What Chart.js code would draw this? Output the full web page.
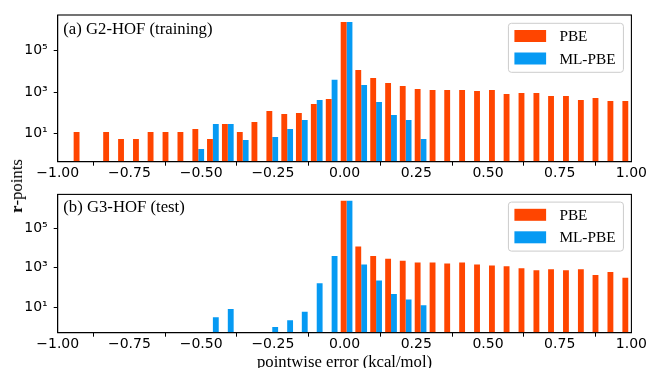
<!DOCTYPE html>
<html>
<head>
<meta charset="utf-8">
<script src="https://cdn.jsdelivr.net/npm/chart.js@4.4.1/dist/chart.umd.min.js"></script>
<style>
  body { margin: 0; background: #fff; width: 648px; height: 368px; position: relative; overflow: hidden; }
  canvas { position: absolute; left: 0; }
  #ylab {
    position: absolute; left: 17px; top: 186px;
    transform: translate(-50%, -50%) rotate(-90deg);
    font: 16.7px "Liberation Serif", serif; color: #000; white-space: nowrap;
  }
</style>
</head>
<body>
<canvas id="g2" width="648" height="180" style="top:0"></canvas>
<canvas id="g3" width="648" height="188" style="top:180px"></canvas>
<div id="ylab"><b>r</b>-points</div>
<script>
// histogram bin centres (kcal/mol)
const binCenters = [
  -0.924, -0.872, -0.821, -0.769, -0.717, -0.666, -0.614, -0.562, -0.510, -0.459,
  -0.407, -0.355, -0.304, -0.252, -0.200, -0.149, -0.097, -0.045, 0.007, 0.058,
  0.110, 0.162, 0.213, 0.265, 0.317, 0.368, 0.420, 0.472, 0.524, 0.575,
  0.627, 0.679, 0.730, 0.782, 0.834, 0.885, 0.937, 0.989,
];

// (a) G2-HOF (training)
const g2Pbe = [
  12, null, 12, 5.5, 5.5, 12, 12, 12, 17, 5.5,
  29, 12, 36, 123, 89, 99, 268, 466, 2.4e6, 11700,
  4800, 2760, 1990, 1420, 1260, 1260, 1260, 1140, 1260, 815,
  910, 910, 655, 655, 420, 525, 375, 375,
];
const g2MlPbe = [
  null, null, null, null, null, null, null, null, 1.8, 29,
  29, 5, null, 7, 17, 46, 414, 3900, 2.4e6, 2230,
  337, 79, 46, 5.5, null, null, null, null, null, null,
  null, null, null, null, null, null, null, null,
];

// (b) G3-HOF (test)
const g3Pbe = [
  null, null, null, null, null, null, null, null, null, null,
  null, null, null, null, null, null, null, null, 2.5e6, 12000,
  4000, 2870, 2300, 1850, 1850, 1660, 1850, 1480, 1320, 1180,
  950, 760, 850, 760, 850, 435, 605, 310,
];
const g3MlPbe = [
  null, null, null, null, null, null, null, null, null, 3.1,
  8.3, null, null, 1.0, 2.2, 6, 166, 4000, 2.5e6, 1480,
  224, 47, 25, 12.5, null, null, null, null, null, null,
  null, null, null, null, null, null, null, null,
];

const xTicks = [-1, -0.75, -0.5, -0.25, 0, 0.25, 0.5, 0.75, 1];
const yTicks = [10, 1000, 100000];
const supDigits = { 1: '¹', 3: '³', 5: '⁵' };

const PBE_COLOR = '#ff4500';
const ML_COLOR = '#069af3';

// frame, panel label and legend box drawn on top of the bars
const panelDecor = {
  id: 'panelDecor',
  afterDraw: (ch, _, opts) => {
    const { ctx, chartArea: a } = ch;
    ctx.save();
    ctx.strokeStyle = '#000';
    ctx.lineWidth = 1.1;
    ctx.strokeRect(a.left, a.top, a.right - a.left, a.bottom - a.top);

    ctx.fillStyle = '#000';
    ctx.font = '16.7px "Liberation Serif", serif';
    ctx.textBaseline = 'alphabetic';
    ctx.textAlign = 'left';
    ctx.fillText(opts.label, a.left + 5.6, a.top + opts.labelDy);

    // legend
    const bx = a.right - 123, by = a.top + opts.legendDy, bw = 115, bh = 49;
    ctx.beginPath();
    ctx.roundRect(bx, by, bw, bh, 3);
    ctx.fillStyle = 'rgba(255,255,255,0.8)';
    ctx.fill();
    ctx.strokeStyle = '#cccccc';
    ctx.lineWidth = 1;
    ctx.stroke();
    ctx.font = '15.3px "Liberation Serif", serif';
    ctx.textBaseline = 'middle';
    ch.data.datasets.forEach((ds, i) => {
      const cy = by + 12.7 + i * 22.5;
      ctx.fillStyle = ds.backgroundColor;
      ctx.fillRect(bx + 6, cy - 6, 31.7, 12);
      ctx.fillStyle = '#000';
      ctx.fillText(ds.label, bx + 51, cy + 1);
    });
    ctx.restore();
  },
};

function makeChart(id, pbe, ml, opts) {
  // eslint-disable-next-line no-undef
  return new Chart(document.getElementById(id), {
    type: 'bar',
    data: {
      datasets: [
        {
          label: 'PBE',
          backgroundColor: PBE_COLOR,
          data: binCenters.map((x, i) => ({ x, y: pbe[i] })),
        },
        {
          label: 'ML-PBE',
          backgroundColor: ML_COLOR,
          data: binCenters.map((x, i) => ({ x, y: ml[i] })),
        },
      ],
    },
    plugins: [panelDecor],
    options: {
      responsive: false,
      animation: false,
      devicePixelRatio: 1,
      layout: {
        padding: { top: opts.padTop, right: 16.3, left: 0, bottom: 0 },
      },
      datasets: {
        bar: {
          categoryPercentage: 0.8,
          barPercentage: 1,
          borderWidth: 0,
        },
      },
      plugins: {
        legend: { display: false },
        tooltip: { enabled: false },
        panelDecor: {
          label: opts.label,
          labelDy: opts.labelDy,
          legendDy: opts.legendDy,
        },
      },
      scales: {
        x: {
          type: 'linear',
          min: -1,
          max: 1,
          offset: false,
          afterFit: (s) => { s.height = opts.xHeight; },
          afterBuildTicks: (s) => { s.ticks = xTicks.map((value) => ({ value })); },
          grid: {
            drawOnChartArea: false,
            drawTicks: true,
            tickLength: 4,
            color: '#000',
          },
          border: { display: true, color: '#000', width: 1 },
          ticks: {
            padding: 1,
            color: '#000',
            maxRotation: 0,
            font: { family: '"DejaVu Sans"', size: 14, lineHeight: 1 },
            callback: (v) => v.toFixed(2).replace('-', '\u2212'),
          },
          title: opts.xTitle ? {
            display: true,
            text: opts.xTitle,
            color: '#000',
            padding: { top: 0, bottom: -2.5 },
            font: { family: '"Liberation Serif"', size: 16.7, lineHeight: 1 },
          } : { display: false },
        },
        y: {
          type: 'logarithmic',
          min: opts.yMin,
          max: 5.2e6,
          afterFit: (s) => { s.width = 57.7; },
          afterBuildTicks: (s) => { s.ticks = yTicks.map((value) => ({ value })); },
          grid: {
            drawOnChartArea: false,
            drawTicks: true,
            tickLength: 4,
            color: '#000',
          },
          border: { display: true, color: '#000', width: 1 },
          ticks: {
            padding: 6,
            color: '#000',
            font: { family: '"DejaVu Sans"', size: 14 },
            callback: (v) => `10${supDigits[Math.round(Math.log10(v))]}`,
          },
        },
      },
    },
  });
}

makeChart('g2', g2Pbe, g2MlPbe, {
  padTop: 15,
  xHeight: 18.3,
  yMin: 0.446,
  label: '(a) G2-HOF (training)',
  labelDy: 19.3,
  legendDy: 8.3,
});

makeChart('g3', g3Pbe, g3MlPbe, {
  padTop: 7.3,
  xHeight: 35.3,
  yMin: 0.516,
  label: '(b) G3-HOF (test)',
  labelDy: 17.7,
  legendDy: 7.7,
  xTitle: 'pointwise error (kcal/mol)',
});
</script>
</body>
</html>
